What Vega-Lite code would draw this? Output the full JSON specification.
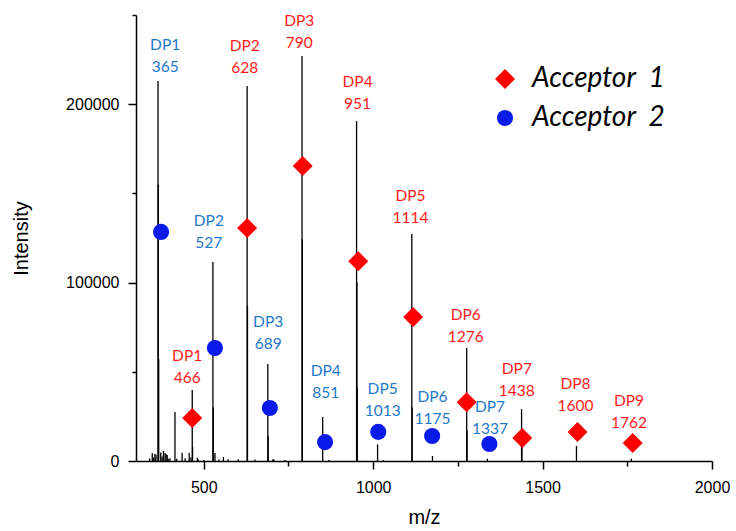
{
  "$schema": "https://vega.github.io/schema/vega-lite/v6.json",
  "width": 576,
  "height": 446,
  "autosize": {"type": "none"},
  "padding": {"left": 136, "top": 15, "right": 24, "bottom": 70},
  "background": "white",
  "config": {"view": {"stroke": null}, "font": "Liberation Sans"},
  "datasets": {
    "peaks": [
      {"mz": 340, "intensity": 1500}, {"mz": 348, "intensity": 4500}, {"mz": 352, "intensity": 2000},
      {"mz": 356, "intensity": 4000}, {"mz": 359, "intensity": 3500}, {"mz": 365, "intensity": 213000},
      {"mz": 366, "intensity": 155000}, {"mz": 367, "intensity": 57000}, {"mz": 373, "intensity": 4700},
      {"mz": 377, "intensity": 2500}, {"mz": 381, "intensity": 5600}, {"mz": 386, "intensity": 4500},
      {"mz": 389, "intensity": 3800}, {"mz": 392, "intensity": 3400}, {"mz": 395, "intensity": 1200},
      {"mz": 400, "intensity": 1500}, {"mz": 415, "intensity": 27500}, {"mz": 420, "intensity": 1200},
      {"mz": 436, "intensity": 4600}, {"mz": 445, "intensity": 1500}, {"mz": 457, "intensity": 4600},
      {"mz": 462, "intensity": 2000}, {"mz": 466, "intensity": 39800}, {"mz": 467, "intensity": 8000},
      {"mz": 481, "intensity": 1800}, {"mz": 484, "intensity": 800}, {"mz": 500, "intensity": 600},
      {"mz": 527, "intensity": 111500}, {"mz": 528, "intensity": 30000}, {"mz": 533, "intensity": 4500},
      {"mz": 545, "intensity": 800}, {"mz": 558, "intensity": 2300}, {"mz": 572, "intensity": 1000},
      {"mz": 602, "intensity": 1000}, {"mz": 628, "intensity": 210200}, {"mz": 629, "intensity": 87000},
      {"mz": 651, "intensity": 800}, {"mz": 689, "intensity": 54400}, {"mz": 690, "intensity": 14000},
      {"mz": 703, "intensity": 800}, {"mz": 707, "intensity": 1000}, {"mz": 740, "intensity": 500},
      {"mz": 790, "intensity": 227000}, {"mz": 791, "intensity": 124400}, {"mz": 851, "intensity": 24700},
      {"mz": 870, "intensity": 500}, {"mz": 951, "intensity": 190600}, {"mz": 952, "intensity": 100000},
      {"mz": 953, "intensity": 41000}, {"mz": 1013, "intensity": 9300}, {"mz": 1030, "intensity": 400},
      {"mz": 1114, "intensity": 127200}, {"mz": 1115, "intensity": 30000}, {"mz": 1175, "intensity": 2800},
      {"mz": 1276, "intensity": 63300}, {"mz": 1277, "intensity": 17000}, {"mz": 1337, "intensity": 1300},
      {"mz": 1438, "intensity": 29100}, {"mz": 1439, "intensity": 8000}, {"mz": 1600, "intensity": 8400},
      {"mz": 1762, "intensity": 1300}
    ],
    "markers": [
      {"mz": 374, "intensity": 128400, "series": "Acceptor 2"},
      {"mz": 533, "intensity": 63300, "series": "Acceptor 2"},
      {"mz": 695, "intensity": 29700, "series": "Acceptor 2"},
      {"mz": 858, "intensity": 10600, "series": "Acceptor 2"},
      {"mz": 1015, "intensity": 16300, "series": "Acceptor 2"},
      {"mz": 1174, "intensity": 14000, "series": "Acceptor 2"},
      {"mz": 1343, "intensity": 9500, "series": "Acceptor 2"},
      {"mz": 466, "intensity": 24100, "series": "Acceptor 1"},
      {"mz": 628, "intensity": 130600, "series": "Acceptor 1"},
      {"mz": 792, "intensity": 165400, "series": "Acceptor 1"},
      {"mz": 956, "intensity": 112000, "series": "Acceptor 1"},
      {"mz": 1118, "intensity": 80700, "series": "Acceptor 1"},
      {"mz": 1276, "intensity": 33000, "series": "Acceptor 1"},
      {"mz": 1440, "intensity": 12900, "series": "Acceptor 1"},
      {"mz": 1603, "intensity": 16300, "series": "Acceptor 1"},
      {"mz": 1766, "intensity": 10100, "series": "Acceptor 1"}
    ],
    "labels": [
      {"dp": "DP1", "mz": 365, "lx": 386, "ly": 220800, "series": "Acceptor 2"},
      {"dp": "DP2", "mz": 527, "lx": 515, "ly": 122200, "series": "Acceptor 2"},
      {"dp": "DP3", "mz": 689, "lx": 690, "ly": 65400, "series": "Acceptor 2"},
      {"dp": "DP4", "mz": 851, "lx": 860, "ly": 38100, "series": "Acceptor 2"},
      {"dp": "DP5", "mz": 1013, "lx": 1028, "ly": 28200, "series": "Acceptor 2"},
      {"dp": "DP6", "mz": 1175, "lx": 1175, "ly": 23400, "series": "Acceptor 2"},
      {"dp": "DP7", "mz": 1337, "lx": 1345, "ly": 17900, "series": "Acceptor 2"},
      {"dp": "DP1", "mz": 466, "lx": 451, "ly": 46500, "series": "Acceptor 1"},
      {"dp": "DP2", "mz": 628, "lx": 621, "ly": 220300, "series": "Acceptor 1"},
      {"dp": "DP3", "mz": 790, "lx": 782, "ly": 234300, "series": "Acceptor 1"},
      {"dp": "DP4", "mz": 951, "lx": 954, "ly": 200100, "series": "Acceptor 1"},
      {"dp": "DP5", "mz": 1114, "lx": 1110, "ly": 136000, "series": "Acceptor 1"},
      {"dp": "DP6", "mz": 1276, "lx": 1273, "ly": 69700, "series": "Acceptor 1"},
      {"dp": "DP7", "mz": 1438, "lx": 1424, "ly": 39400, "series": "Acceptor 1"},
      {"dp": "DP8", "mz": 1600, "lx": 1597, "ly": 30800, "series": "Acceptor 1"},
      {"dp": "DP9", "mz": 1762, "lx": 1755, "ly": 21500, "series": "Acceptor 1"}
    ]
  },
  "layer": [
    {
      "data": {"name": "peaks"},
      "mark": {"type": "rule", "color": "black", "strokeWidth": 1.3},
      "encoding": {
        "x": {
          "field": "mz", "type": "quantitative", "title": "m/z",
          "scale": {"domain": [300, 2000], "nice": false, "zero": false},
          "axis": {
            "values": [500, 750, 1000, 1250, 1500, 1750, 2000],
            "format": "d",
            "labelExpr": "datum.value % 500 === 0 ? datum.label : ''",
            "grid": false, "labelFlush": false, "labelOverlap": false,
            "domainColor": "black", "domainWidth": 1.5,
            "tickColor": "black", "tickWidth": 1.5,
            "tickSize": {"condition": {"test": "datum.value % 500 === 0", "value": 8}, "value": 5},
            "labelFont": "Liberation Sans", "labelFontSize": 16, "labelColor": "black", "labelPadding": 10,
            "titleFont": "Liberation Sans", "titleFontSize": 20, "titleFontWeight": "normal", "titleColor": "black", "titlePadding": 12
          }
        },
        "y": {
          "field": "intensity", "type": "quantitative", "title": "Intensity",
          "scale": {"domain": [0, 250000], "nice": false},
          "axis": {
            "values": [0, 50000, 100000, 150000, 200000, 250000],
            "format": "d",
            "labelExpr": "datum.value % 100000 === 0 ? datum.label : ''",
            "grid": false, "labelOverlap": false, "labelFlush": false,
            "domainColor": "black", "domainWidth": 1.5,
            "tickColor": "black", "tickWidth": 1.5,
            "tickSize": {"condition": {"test": "datum.value % 100000 === 0", "value": 8}, "value": 4},
            "labelFont": "Liberation Sans", "labelFontSize": 16, "labelColor": "black", "labelPadding": 9,
            "titleFont": "Liberation Sans", "titleFontSize": 20, "titleFontWeight": "normal", "titleColor": "black", "titlePadding": 34
          }
        },
        "y2": {"datum": 0}
      }
    },
    {
      "data": {"name": "markers"},
      "mark": {"type": "point", "filled": true, "opacity": 1, "strokeWidth": 0},
      "encoding": {
        "x": {"field": "mz", "type": "quantitative"},
        "y": {"field": "intensity", "type": "quantitative"},
        "shape": {
          "field": "series", "type": "nominal",
          "scale": {"domain": ["Acceptor 1", "Acceptor 2"], "range": ["diamond", "circle"]},
          "legend": {
            "title": null, "orient": "none", "legendX": 355, "legendY": 50,
            "labelExpr": "replace(datum.label, ' ', ' \u00a0')",
            "labelFont": "Lato", "labelFontStyle": "italic", "labelFontSize": 28, "labelColor": "black",
            "labelOffset": 13, "rowPadding": 11, "padding": 0, "symbolStrokeWidth": 0
          }
        },
        "color": {
          "field": "series", "type": "nominal",
          "scale": {"domain": ["Acceptor 1", "Acceptor 2"], "range": ["#ff0000", "#0a1ae8"]},
          "legend": {
            "title": null, "orient": "none", "legendX": 355, "legendY": 50,
            "labelExpr": "replace(datum.label, ' ', ' \u00a0')",
            "labelFont": "Lato", "labelFontStyle": "italic", "labelFontSize": 28, "labelColor": "black",
            "labelOffset": 13, "rowPadding": 11, "padding": 0, "symbolStrokeWidth": 0
          }
        },
        "size": {
          "field": "series", "type": "nominal",
          "scale": {"domain": ["Acceptor 1", "Acceptor 2"], "range": [400, 260]},
          "legend": {
            "title": null, "orient": "none", "legendX": 355, "legendY": 50,
            "labelExpr": "replace(datum.label, ' ', ' \u00a0')",
            "labelFont": "Lato", "labelFontStyle": "italic", "labelFontSize": 28, "labelColor": "black",
            "labelOffset": 13, "rowPadding": 11, "padding": 0, "symbolStrokeWidth": 0
          }
        }
      }
    },
    {
      "data": {"name": "labels"},
      "mark": {"type": "text", "font": "Lato", "fontSize": 15.5, "baseline": "middle", "align": "center"},
      "encoding": {
        "x": {"field": "lx", "type": "quantitative"},
        "y": {"field": "ly", "type": "quantitative"},
        "text": {"field": "mz", "type": "quantitative", "format": "d"},
        "color": {"condition": {"test": "datum.series === 'Acceptor 1'", "value": "#ff1a1a"}, "value": "#1f78c8"}
      }
    },
    {
      "data": {"name": "labels"},
      "mark": {"type": "text", "font": "Lato", "fontSize": 15.5, "baseline": "middle", "align": "center", "dy": -22},
      "encoding": {
        "x": {"field": "lx", "type": "quantitative"},
        "y": {"field": "ly", "type": "quantitative"},
        "text": {"field": "dp", "type": "nominal"},
        "color": {"condition": {"test": "datum.series === 'Acceptor 1'", "value": "#ff1a1a"}, "value": "#1f78c8"}
      }
    }
  ]
}
